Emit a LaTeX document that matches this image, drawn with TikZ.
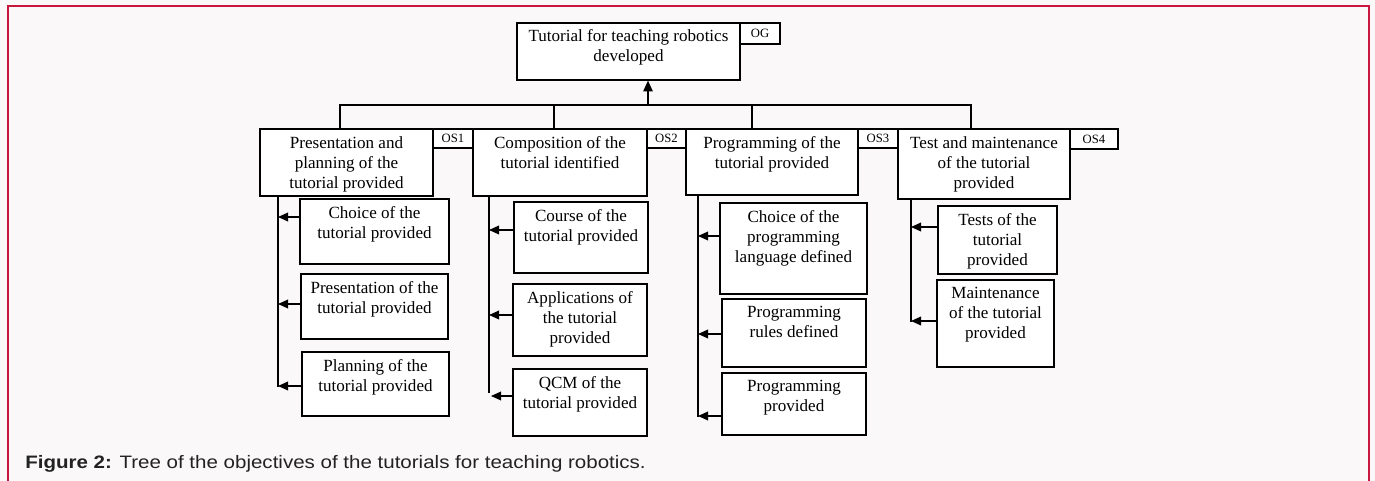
\documentclass[tikz,border=0pt]{standalone}
\usepackage{fontspec}
\setmainfont{Liberation Serif}
\newfontfamily\capfont{Liberation Sans}
\usetikzlibrary{fit,arrows.meta}
\definecolor{bgc}{HTML}{FAF8F9}
\definecolor{framec}{HTML}{C8163F}
\definecolor{capc}{HTML}{222222}
\begin{document}
\begin{tikzpicture}[x=0.75pt,y=-0.75pt,
  box/.style={draw=black, line width=0.9pt, inner sep=0pt, fill=white},
  tag/.style={draw=black, line width=0.9pt, inner sep=0pt, fill=white},
  tagtxt/.style={inner sep=0pt, font=\fontsize{9.5}{11}\selectfont},
  txt/.style={anchor=north, align=center, inner sep=0pt, font=\fontsize{12.8}{15}\selectfont},
  link/.style={line width=0.9pt},
  arr/.style={line width=1pt, -{Triangle[length=7.5pt,width=6.5pt]}}]
\useasboundingbox (0,0) rectangle (1375,481);
\fill[bgc] (0,0) rectangle (1375,481);
\draw[framec, line width=1.5pt] (8,481) -- (8,6) -- (1369,6) -- (1369,481);

% top
\node[box, fit={(517,23) (740,80)}] (og) {};
\node[txt] (og-t) at ([yshift=-5pt]og.north) {Tutorial for teaching robotics\\developed};
\node[tag, fit={(740,23) (780,44)}] (og-tag) {};
\node[tagtxt] (og-tt) at (og-tag.center) {OG};

% level 1
\node[box, fit={(260,129) (433,196)}] (p) {};
\node[txt] (p-t) at ([yshift=-6pt]p.north) {Presentation and\\planning of the\\tutorial provided};
\node[tag, fit={(433,129) (473,148)}] (p-tag) {};
\node[tagtxt] (p-tt) at (p-tag.center) {OS1};
\node[box, fit={(473,129) (647,196)}] (c) {};
\node[txt] (c-t) at ([yshift=-6pt]c.north) {Composition of the\\tutorial identified};
\node[tag, fit={(647,129) (686,148)}] (c-tag) {};
\node[tagtxt] (c-tt) at (c-tag.center) {OS2};
\node[box, fit={(686,129) (858,195)}] (g) {};
\node[txt] (g-t) at ([yshift=-6pt]g.north) {Programming of the\\tutorial provided};
\node[tag, fit={(858,129) (898,148)}] (g-tag) {};
\node[tagtxt] (g-tt) at (g-tag.center) {OS3};
\node[box, fit={(898,129) (1070,199)}] (t) {};
\node[txt] (t-t) at ([yshift=-6pt]t.north) {Test and maintenance\\of the tutorial\\provided};
\node[tag, fit={(1070,129) (1118,149)}] (t-tag) {};
\node[tagtxt] (t-tt) at (t-tag.center) {OS4};

% bus to top
\coordinate (hl) at (340,105);
\coordinate (hr) at (971,105);
\coordinate (hm) at (648,105);
\coordinate (hc) at (554,105);
\coordinate (hg) at (752,105);
\draw[link] (hl |- p.north) -- (hl) -- (hr) -- (hr |- t.north);
\draw[link] (hc |- c.north) -- (hc);
\draw[link] (hg |- g.north) -- (hg);
\draw[arr, -{Triangle[length=8pt,width=7pt]}] (hm) -- (hm |- og.south);

% children of p
\node[box, fit={(300,199) (449,264)}] (p1) {};
\node[txt] (p1-t) at ([yshift=-6pt]p1.north) {Choice of the\\tutorial provided};
\node[box, fit={(301,274) (448,339)}] (p2) {};
\node[txt] (p2-t) at ([yshift=-6pt]p2.north) {Presentation of the\\tutorial provided};
\node[box, fit={(302,352) (449,416)}] (p3) {};
\node[txt] (p3-t) at ([yshift=-6pt]p3.north) {Planning of the\\tutorial provided};
\coordinate (pa1) at (278,217);
\coordinate (pa2) at (278,304);
\coordinate (pa3) at (278,386);
\coordinate (pb) at (278,387);
\draw[link] (pb |- p.south) -- (pb);
\draw[arr] (p1.west |- pa1) -- (pa1);
\draw[arr] (p2.west |- pa2) -- (pa2);
\draw[arr] (p3.west |- pa3) -- (pa3);

% children of c
\node[box, fit={(514,202) (648,273)}] (c1) {};
\node[txt] (c1-t) at ([yshift=-6pt]c1.north) {Course of the\\tutorial provided};
\node[box, fit={(513,284) (647,356)}] (c2) {};
\node[txt] (c2-t) at ([yshift=-6pt]c2.north) {Applications of\\the tutorial\\provided};
\node[box, fit={(513,369) (647,436)}] (c3) {};
\node[txt] (c3-t) at ([yshift=-6pt]c3.north) {QCM of the\\tutorial provided};
\coordinate (ca1) at (489,230);
\coordinate (ca2) at (489,315);
\coordinate (ca3) at (491,396);
\coordinate (cb) at (489,393);
\draw[link] (cb |- c.south) -- (cb);
\draw[arr] (c1.west |- ca1) -- (ca1);
\draw[arr] (c2.west |- ca2) -- (ca2);
\draw[arr] (c3.west |- ca3) -- (ca3);

% children of g
\node[box, fit={(720,203) (867,294)}] (g1) {};
\node[txt] (g1-t) at ([yshift=-6pt]g1.north) {Choice of the\\programming\\language defined};
\node[box, fit={(722,299) (866,367)}] (g2) {};
\node[txt] (g2-t) at ([yshift=-6pt]g2.north) {Programming\\rules defined};
\node[box, fit={(722,373) (866,435)}] (g3) {};
\node[txt] (g3-t) at ([yshift=-6pt]g3.north) {Programming\\provided};
\coordinate (ga1) at (698,236);
\coordinate (ga2) at (698,334);
\coordinate (ga3) at (698,416);
\coordinate (gb) at (698,417);
\draw[link] (gb |- g.south) -- (gb);
\draw[arr] (g1.west |- ga1) -- (ga1);
\draw[arr] (g2.west |- ga2) -- (ga2);
\draw[arr] (g3.west |- ga3) -- (ga3);

% children of t
\node[box, fit={(938,206) (1057,274)}] (t1) {};
\node[txt] (t1-t) at ([yshift=-6pt]t1.north) {Tests of the\\tutorial\\provided};
\node[box, fit={(937,280) (1054,367)}] (t2) {};
\node[txt] (t2-t) at ([yshift=-6pt]t2.north) {Maintenance\\of the tutorial\\provided};
\coordinate (ta1) at (911,227);
\coordinate (ta2) at (911,321);
\coordinate (tb) at (911,322);
\draw[link] (tb |- t.south) -- (tb);
\draw[arr] (t1.west |- ta1) -- (ta1);
\draw[arr] (t2.west |- ta2) -- (ta2);

% caption
\node[anchor=base west, inner sep=0pt, text=capc, xscale=1.14, font=\capfont\fontsize{13.5}{16}\selectfont] (cap) at (25,468)
  {\textbf{Figure 2:} Tree of the objectives of the tutorials for teaching robotics.};
\end{tikzpicture}
\end{document}
